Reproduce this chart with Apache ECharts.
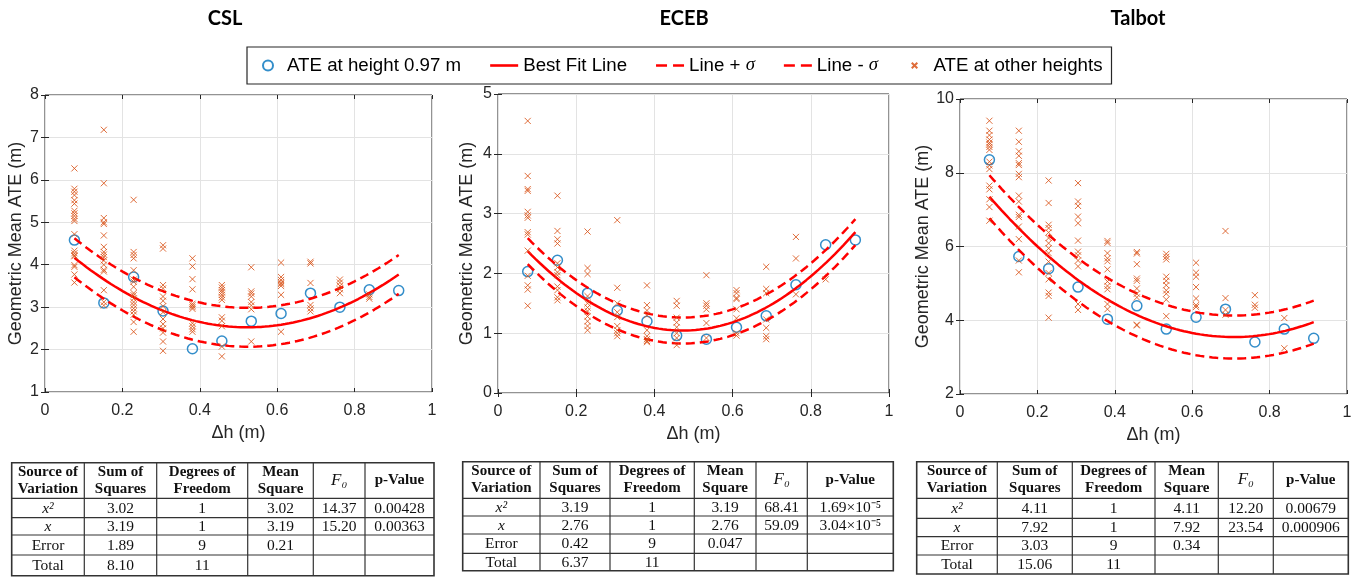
<!DOCTYPE html>
<html>
<head>
<meta charset="utf-8">
<script src="https://cdn.jsdelivr.net/npm/echarts@6/dist/echarts.min.js"></script>
<style>
  html, body { margin: 0; padding: 0; background: #fff; }
  #chart { width: 1359px; height: 577px; }
</style>
</head>
<body>
<div id="chart"></div>
<script>
// Height offsets (m) at which the ATE was measured
const heights = [0.076, 0.152, 0.229, 0.305, 0.381, 0.457, 0.533, 0.610, 0.686, 0.762, 0.838, 0.914];

// Geometric mean ATE at height 0.97 m, one value per offset
const cslMain    = [4.58, 3.10, 3.71, 2.91, 2.02, 2.20, 2.67, 2.85, 3.33, 3.00, 3.41, 3.39];
const ecebMain   = [2.03, 2.22, 1.67, 1.38, 1.20, 0.96, 0.90, 1.10, 1.29, 1.81, 2.48, 2.56];
const talbotMain = [8.35, 5.73, 5.40, 4.90, 4.03, 4.39, 3.76, 4.08, 4.30, 3.41, 3.76, 3.51];

// ATE at the other heights, grouped by offset
const cslOther = [
  [6.27, 5.79, 5.72, 5.64, 5.52, 5.44, 5.27, 5.21, 5.15, 5.08, 5.03, 4.72, 4.33, 4.27, 4.22, 4.20, 3.99, 3.95, 3.77, 3.58],
  [7.18, 5.92, 5.10, 5.00, 4.96, 4.69, 4.42, 4.30, 4.24, 4.18, 4.10, 4.00, 3.88, 3.84, 3.40, 3.12, 3.04],
  [5.53, 4.30, 4.23, 4.15, 3.87, 3.65, 3.60, 3.48, 3.33, 3.28, 3.20, 3.12, 3.05, 2.97, 2.90, 2.82, 2.65, 2.42],
  [4.46, 4.38, 3.52, 3.44, 3.25, 3.15, 3.02, 2.88, 2.72, 2.60, 2.50, 2.40, 2.19, 1.97],
  [4.15, 3.96, 3.66, 3.42, 3.08, 3.04, 3.00, 2.96, 2.62, 2.55, 2.48, 2.42],
  [3.52, 3.46, 3.40, 3.35, 3.29, 3.23, 3.17, 2.76, 2.68, 2.55, 2.07, 1.84],
  [3.94, 3.37, 3.32, 3.25, 3.12, 3.04, 2.95, 2.19],
  [4.05, 3.71, 3.64, 3.58, 3.55, 3.50, 3.29, 2.42],
  [4.07, 4.03, 3.57, 3.05, 2.97, 2.90],
  [3.65, 3.58, 3.50, 3.42, 3.33],
  [3.30, 3.24, 3.20],
  []
];
const ecebOther = [
  [4.55, 3.63, 3.41, 3.38, 3.03, 2.97, 2.93, 2.69, 2.65, 2.38, 1.96, 1.80, 1.73, 1.46],
  [3.30, 2.71, 2.57, 2.50, 2.17, 2.10, 2.02, 1.97, 1.78, 1.72, 1.60, 1.55],
  [2.70, 2.09, 1.99, 1.62, 1.50, 1.43, 1.37, 1.28, 1.20, 1.12, 1.05],
  [2.89, 1.76, 1.50, 1.35, 1.27, 1.12, 1.05, 1.00, 0.95],
  [1.80, 1.47, 1.38, 1.30, 1.05, 0.95, 0.90, 0.87, 0.85],
  [1.54, 1.46, 1.26, 1.18, 1.10, 1.00, 0.92, 0.80],
  [1.97, 1.50, 1.46, 1.40, 1.17, 0.92],
  [1.72, 1.67, 1.59, 1.57, 1.40, 1.25, 1.00, 0.96],
  [2.11, 1.74, 1.67, 1.23, 1.09, 0.95, 0.90],
  [2.61, 2.25, 1.65],
  [1.90],
  []
];
const talbotOther = [
  [9.41, 9.14, 9.02, 8.90, 8.82, 8.77, 8.70, 8.62, 8.30, 8.20, 8.10, 7.65, 7.55, 7.28, 7.07, 6.70],
  [9.14, 8.84, 8.58, 8.46, 8.26, 8.21, 7.97, 7.88, 7.38, 7.22, 6.86, 6.80, 6.54, 6.20, 5.62, 5.30],
  [7.79, 7.18, 6.59, 6.50, 6.38, 6.23, 6.09, 5.95, 5.82, 5.59, 5.28, 5.11, 4.75, 4.66, 4.07],
  [7.72, 7.22, 7.10, 6.81, 6.63, 6.16, 5.86, 5.76, 5.62, 5.46, 4.44, 4.28],
  [6.15, 6.10, 5.82, 5.68, 5.60, 5.38, 5.05, 4.93, 4.84, 4.44, 4.30],
  [5.85, 5.81, 5.52, 5.13, 5.07, 4.86, 4.72, 4.62, 3.88, 3.86],
  [5.80, 5.72, 5.65, 5.18, 5.07, 4.95, 4.81, 4.72, 4.56, 4.11],
  [5.56, 5.29, 5.18, 4.90, 4.59, 4.41, 4.36],
  [6.42, 4.60, 4.28, 4.15],
  [4.68, 4.42, 4.34],
  [4.06, 3.24],
  []
];

// ANOVA tables
const tableHeader = ['Source of\nVariation', 'Sum of\nSquares', 'Degrees of\nFreedom', 'Mean\nSquare', 'F\u2080', 'p-Value'];
const cslTable = [
  ['x\u00B2', '3.02', '1', '3.02', '14.37', '0.00428'],
  ['x', '3.19', '1', '3.19', '15.20', '0.00363'],
  ['Error', '1.89', '9', '0.21', '', ''],
  ['Total', '8.10', '11', '', '', '']
];
const ecebTable = [
  ['x\u00B2', '3.19', '1', '3.19', '68.41', '1.69\u00D710\u207B\u2075'],
  ['x', '2.76', '1', '2.76', '59.09', '3.04\u00D710\u207B\u2075'],
  ['Error', '0.42', '9', '0.047', '', ''],
  ['Total', '6.37', '11', '', '', '']
];
const talbotTable = [
  ['x\u00B2', '4.11', '1', '4.11', '12.20', '0.00679'],
  ['x', '7.92', '1', '7.92', '23.54', '0.000906'],
  ['Error', '3.03', '9', '0.34', '', ''],
  ['Total', '15.06', '11', '', '', '']
];

const siteNames = ['CSL', 'ECEB', 'Talbot'];
const yRanges = [[1, 8, 1], [0, 5, 1], [2, 10, 2]];
const legendNames = ['ATE at height 0.97 m', 'Best Fit Line', 'Line + \u03C3', 'Line - \u03C3', 'ATE at other heights'];

// ---- layout ----
const panels = [
  { grid: { left: 45, top: 95, width: 387, height: 297 }, titleX: 225, nameGap: 20,
    table: { cols: [11.7, 84.3, 156.7, 247.7, 313.3, 365, 434], rows: [462.7, 498.3, 517.7, 535, 555, 575.7] } },
  { grid: { left: 498, top: 94, width: 391, height: 299 }, titleX: 684, nameGap: 22,
    table: { cols: [462.7, 540, 610, 694.3, 756, 807.3, 893.3], rows: [461.7, 498.3, 516, 534, 553.3, 570.7] } },
  { grid: { left: 960, top: 99, width: 387, height: 295 }, titleX: 1138, nameGap: 28,
    table: { cols: [916.7, 997.3, 1072.3, 1155, 1218.3, 1273.3, 1348.3], rows: [461.7, 498.3, 518.3, 536.7, 555, 574] } }
];

const mains = [cslMain, ecebMain, talbotMain];
const others = [cslOther, ecebOther, talbotOther];
const tables = [cslTable, ecebTable, talbotTable];

// least-squares quadratic y = a + b x + c x^2
function quadFit(xs, ys) {
  const A = [[0, 0, 0], [0, 0, 0], [0, 0, 0]];
  const B = [0, 0, 0];
  xs.forEach((x, i) => {
    const p = [1, x, x * x];
    for (let r = 0; r < 3; r++) {
      B[r] += p[r] * ys[i];
      for (let c = 0; c < 3; c++) A[r][c] += p[r] * p[c];
    }
  });
  for (let k = 0; k < 3; k++) {
    for (let r = k + 1; r < 3; r++) {
      const f = A[r][k] / A[k][k];
      for (let c = k; c < 3; c++) A[r][c] -= f * A[k][c];
      B[r] -= f * B[k];
    }
  }
  const s = [0, 0, 0];
  for (let r = 2; r >= 0; r--) {
    let v = B[r];
    for (let c = r + 1; c < 3; c++) v -= A[r][c] * s[c];
    s[r] = v / A[r][r];
  }
  return s;
}

const AX = '#262626';
const GRIDLINE = '#e3e3e3';
const SANS = 'Liberation Sans, Arial, sans-serif';
const SERIF = 'Liberation Serif, Times New Roman, serif';
// cross marker; the outer move-to points pad the glyph so the legend icon stays small
const XMARK = 'path://M-4,-4M0,0L10,10M0,10L10,0M14,14';
const SOLID_ICON = 'path://M0,0H28V2.6H0Z';
const DASH_ICON = 'path://M0,0H11V2.6H0ZM17,0H28V2.6H17Z';

const grids = [], xAxes = [], yAxes = [], series = [], graphics = [];

panels.forEach((pn, g) => {
  grids.push(Object.assign({ show: true, borderColor: AX, borderWidth: 1, containLabel: false }, pn.grid));
  const [ymin, ymax, yint] = yRanges[g];
  const tick = { inside: true, length: 4, lineStyle: { color: AX, width: 1 } };
  xAxes.push({
    type: 'value', gridIndex: g, min: 0, max: 1, interval: 0.2, position: 'bottom',
    name: '\u0394h (m)', nameLocation: 'middle', nameGap: 32,
    nameTextStyle: { fontSize: 18, color: AX, fontFamily: SANS },
    axisLine: { show: false }, axisTick: tick,
    axisLabel: { fontSize: 16, color: AX, fontFamily: SANS, margin: 11,
      formatter: v => (Math.round(v * 10) / 10).toString() },
    splitLine: { show: true, lineStyle: { color: GRIDLINE, width: 1 } }
  });
  xAxes.push({
    type: 'value', gridIndex: g, min: 0, max: 1, interval: 0.2, position: 'top',
    axisLine: { show: false }, axisTick: tick, axisLabel: { show: false }, splitLine: { show: false }
  });
  yAxes.push({
    type: 'value', gridIndex: g, min: ymin, max: ymax, interval: yint, position: 'left',
    name: 'Geometric Mean ATE (m)', nameLocation: 'middle', nameGap: pn.nameGap,
    nameTextStyle: { fontSize: 18, color: AX, fontFamily: SANS },
    axisLine: { show: false }, axisTick: tick,
    axisLabel: { fontSize: 16, color: AX, fontFamily: SANS, margin: 6 },
    splitLine: { show: true, lineStyle: { color: GRIDLINE, width: 1 } }
  });
  yAxes.push({
    type: 'value', gridIndex: g, min: ymin, max: ymax, interval: yint, position: 'right',
    axisLine: { show: false }, axisTick: tick, axisLabel: { show: false }, splitLine: { show: false }
  });

  const xi = g * 2, yi = g * 2;
  const main = mains[g];
  const coef = quadFit(heights, main);
  const sigma = Math.sqrt(parseFloat(tables[g][2][3]));
  const x0 = heights[0], x1 = heights[heights.length - 1];
  const fit = [], up = [], lo = [];
  for (let k = 0; k <= 80; k++) {
    const x = x0 + (x1 - x0) * k / 80;
    const y = coef[0] + coef[1] * x + coef[2] * x * x;
    fit.push([x, y]); up.push([x, y + sigma]); lo.push([x, y - sigma]);
  }
  const otherPts = [];
  others[g].forEach((col, i) => col.forEach(v => otherPts.push([heights[i], v])));

  series.push({
    name: legendNames[0], type: 'scatter', xAxisIndex: xi, yAxisIndex: yi,
    symbol: 'circle', symbolSize: 10, z: 3,
    itemStyle: { color: 'rgba(255,255,255,0)', borderColor: '#0072BD', borderWidth: 1.5 },
    data: heights.map((h, i) => [h, main[i]])
  });
  series.push({
    name: legendNames[1], type: 'line', xAxisIndex: xi, yAxisIndex: yi,
    symbol: 'none', showSymbol: false, z: 4,
    lineStyle: { color: '#FF0000', width: 2.5 }, itemStyle: { color: '#FF0000' }, data: fit
  });
  series.push({
    name: legendNames[2], type: 'line', xAxisIndex: xi, yAxisIndex: yi,
    symbol: 'none', showSymbol: false, z: 4,
    lineStyle: { color: '#FF0000', width: 2.5, type: [9, 5] }, itemStyle: { color: '#FF0000' }, data: up
  });
  series.push({
    name: legendNames[3], type: 'line', xAxisIndex: xi, yAxisIndex: yi,
    symbol: 'none', showSymbol: false, z: 4,
    lineStyle: { color: '#FF0000', width: 2.5, type: [9, 5] }, itemStyle: { color: '#FF0000' }, data: lo
  });
  series.push({
    name: legendNames[4], type: 'scatter', xAxisIndex: xi, yAxisIndex: yi,
    symbol: XMARK, symbolSize: 11, z: 5,
    itemStyle: { color: 'none', borderColor: '#D95319', borderWidth: 1, opacity: 0.85 },
    data: otherPts
  });

  // panel title
  graphics.push({
    type: 'text', x: pn.titleX, y: 19,
    style: { text: siteNames[g], font: 'bold 20px Lato, sans-serif', fill: '#000',
      textAlign: 'center', textVerticalAlign: 'middle', align: 'center', verticalAlign: 'middle' }
  });

  // ANOVA table
  const t = pn.table, cols = t.cols, rows = t.rows;
  graphics.push({
    type: 'rect', shape: { x: cols[0], y: rows[0], width: cols[cols.length - 1] - cols[0], height: rows[rows.length - 1] - rows[0] },
    style: { fill: 'none', stroke: '#333', lineWidth: 1.6 }
  });
  for (let c = 1; c < cols.length - 1; c++) {
    graphics.push({ type: 'line', shape: { x1: cols[c], y1: rows[0], x2: cols[c], y2: rows[rows.length - 1] },
      style: { stroke: '#333', lineWidth: 1.2 } });
  }
  for (let r = 1; r < rows.length - 1; r++) {
    graphics.push({ type: 'line', shape: { x1: cols[0], y1: rows[r], x2: cols[cols.length - 1], y2: rows[r] },
      style: { stroke: '#333', lineWidth: 1.2 } });
  }
  tableHeader.forEach((h, c) => {
    const isF = c === 4;
    graphics.push({
      type: 'text', x: (cols[c] + cols[c + 1]) / 2, y: (rows[0] + rows[1]) / 2,
      style: { text: h, fill: '#111',
        font: isF ? 'italic 17px ' + SERIF : 'bold 15px ' + SERIF, lineHeight: 17,
        textAlign: 'center', textVerticalAlign: 'middle', align: 'center', verticalAlign: 'middle' }
    });
  });
  tables[g].forEach((row, r) => {
    row.forEach((cell, c) => {
      if (!cell) return;
      const italic = c === 0 && r < 2;
      graphics.push({
        type: 'text', x: (cols[c] + cols[c + 1]) / 2, y: (rows[r + 1] + rows[r + 2]) / 2 + 0.5,
        style: { text: cell, fill: '#111', font: (italic ? 'italic ' : '') + '15.5px ' + SERIF,
          textAlign: 'center', textVerticalAlign: 'middle', align: 'center', verticalAlign: 'middle' }
      });
    });
  });
});

const chart = echarts.init(document.getElementById('chart'), null, { renderer: 'canvas' });
chart.setOption({
  backgroundColor: '#fff',
  animation: false,
  legend: {
    left: 247, top: 47,
    data: [
      { name: legendNames[0] },
      { name: legendNames[1], icon: SOLID_ICON },
      { name: legendNames[2], icon: DASH_ICON },
      { name: legendNames[3], icon: DASH_ICON },
      { name: legendNames[4] }
    ],
    borderColor: AX, borderWidth: 1.2, padding: [9, 9, 9, 15],
    itemWidth: 28, itemHeight: 10, itemGap: 29,
    textStyle: { fontSize: 18.7, color: '#000', fontFamily: SANS,
      rich: { s: { fontSize: 18.7, fontStyle: 'italic', fontFamily: SERIF, color: '#000' } } },
    formatter: name => name.replace('\u03C3', '{s|\u03C3}'),
    selectedMode: false
  },
  grid: grids,
  xAxis: xAxes,
  yAxis: yAxes,
  series: series,
  graphic: { elements: graphics }
});
</script>
</body>
</html>
